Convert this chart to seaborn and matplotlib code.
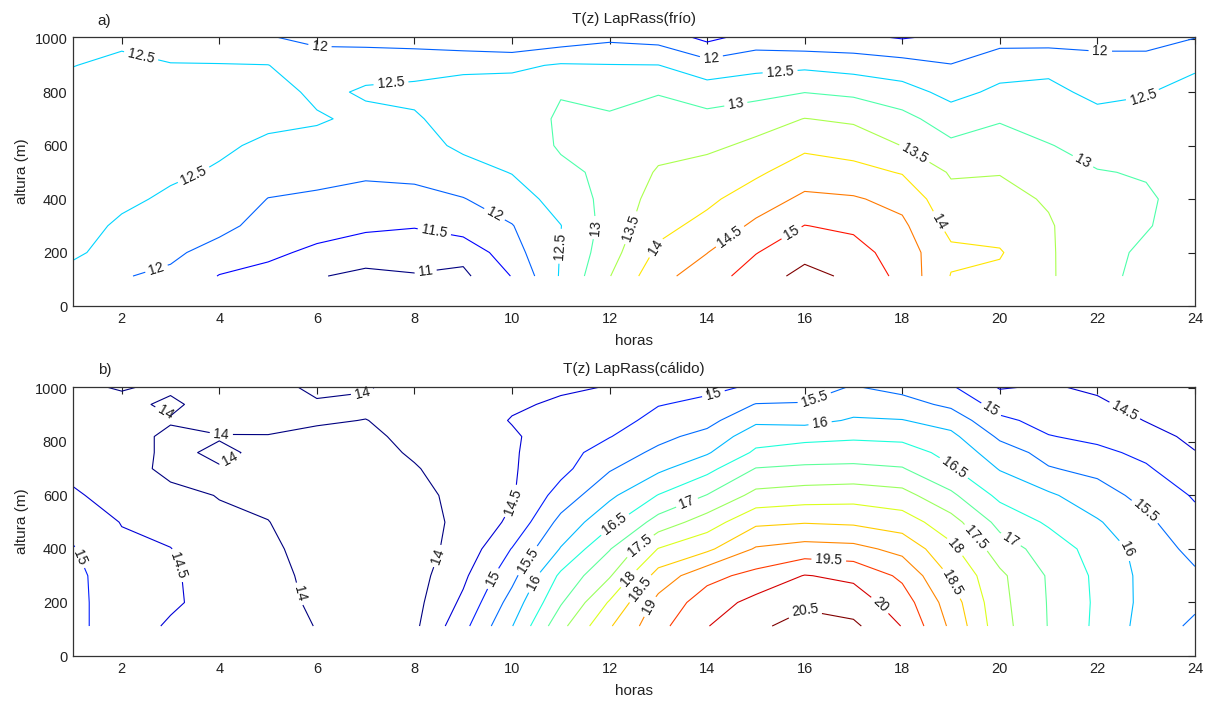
import numpy as np
import matplotlib
matplotlib.use("Agg")
import matplotlib.pyplot as plt
import seaborn as sns

# ---------------- data ----------------
HOURS = list(range(1, 25))

# panel a) frío : heights (m) and temperature rows (one row per height, 24 hours)
HEIGHTS_A = [112, 200, 300, 400, 500, 600, 700, 800, 900, 1006]
FRIO_112 = [12.3, 12.03, 11.9, 11.48, 11.35, 11.03, 10.9, 10.97, 10.9, 11.52, 12.55, 13.48, 14.35, 14.75, 15.25, 15.65, 15.4, 14.85, 13.98, 13.9, 13.56, 13.16, 12.85, 12.7]
FRIO_200 = [12.6, 12.25, 12.1, 11.8, 11.6, 11.4, 11.2, 11.2, 11.15, 11.8, 12.52, 13.3, 14.1, 14.49, 14.98, 15.35, 15.2, 14.75, 14.1, 14.04, 13.56, 13.15, 12.92, 12.75]
FRIO_300 = [12.7, 12.42, 12.25, 12.15, 11.8, 11.7, 11.6, 11.53, 11.75, 11.98, 12.49, 13.2, 13.85, 14.15, 14.6, 15.01, 14.9, 14.6, 13.85, 13.8, 13.55, 13.15, 13.03, 12.8]
FRIO_400 = [12.75, 12.6, 12.42, 12.3, 11.99, 11.95, 11.85, 11.85, 11.98, 12.25, 12.7, 13.15, 13.7, 13.9, 14.25, 14.6, 14.55, 14.35, 13.65, 13.65, 13.45, 13.1, 13.05, 12.85]
FRIO_500 = [12.75, 12.7, 12.58, 12.45, 12.2, 12.1, 12.07, 12.12, 12.3, 12.52, 12.9, 13.1, 13.55, 13.7, 13.92, 14.25, 14.15, 13.97, 13.45, 13.48, 13.25, 13.02, 12.97, 12.8]
FRIO_600 = [12.7, 12.75, 12.68, 12.57, 12.42, 12.35, 12.25, 12.3, 12.6, 12.7, 13.05, 13.08, 13.35, 13.4, 13.6, 13.9, 13.8, 13.49, 13.1, 13.25, 13.02, 12.85, 12.75, 12.75]
FRIO_700 = [12.7, 12.75, 12.7, 12.65, 12.6, 12.55, 12.4, 12.45, 12.7, 12.8, 13.05, 13.04, 13.15, 13.15, 13.3, 13.51, 13.42, 13.15, 12.75, 12.95, 12.8, 12.62, 12.6, 12.7]
FRIO_800 = [12.65, 12.7, 12.65, 12.62, 12.7, 12.4, 12.55, 12.6, 12.65, 12.75, 12.98, 12.9, 12.98, 12.75, 12.85, 12.99, 12.9, 12.7, 12.35, 12.6, 12.6, 12.4, 12.48, 12.62]
FRIO_900 = [12.49, 12.6, 12.55, 12.52, 12.51, 12.2, 12.35, 12.35, 12.42, 12.4, 12.55, 12.52, 12.51, 12.2, 12.35, 12.4, 12.3, 12.2, 12.02, 12.3, 12.4, 12.15, 12.2, 12.45]
FRIO_1006 = [12.3, 12.4, 11.99, 12.2, 12.02, 11.9, 11.8, 11.75, 11.6, 11.52, 11.7, 11.88, 11.8, 11.35, 11.7, 11.6, 11.6, 11.45, 11.6, 11.8, 11.75, 11.85, 11.8, 11.98]
LEVELS_A = [11, 11.5, 12, 12.5, 13, 13.5, 14, 14.5, 15, 15.5]

# panel b) cálido
HEIGHTS_B = [112, 200, 300, 400, 500, 600, 700, 760, 820, 880, 940, 1006]
CALIDO_112 = [15.15, 14.7, 14.45, 14.3, 14.25, 13.98, 13.7, 13.9, 14.85, 15.98, 17.35, 18.45, 19.35, 19.98, 20.4, 20.7, 20.6, 19.98, 18.9, 17.7, 16.98, 16.4, 15.8, 15.4]
CALIDO_200 = [15.15, 14.7, 14.56, 14.35, 14.22, 13.9, 13.7, 13.85, 14.6, 15.7, 16.95, 18.05, 19.15, 19.75, 20.15, 20.4, 20.25, 19.75, 18.75, 17.65, 16.97, 16.42, 15.85, 15.6]
CALIDO_300 = [15.14, 14.68, 14.56, 14.3, 14.18, 13.85, 13.7, 13.8, 14.4, 15.35, 16.6, 17.45, 18.7, 19.35, 19.65, 20.02, 19.9, 19.4, 18.45, 17.6, 16.95, 16.4, 15.85, 15.58]
CALIDO_400 = [15.03, 14.6, 14.51, 14.22, 14.1, 13.8, 13.72, 13.8, 14.18, 15.02, 16.03, 16.97, 18.02, 18.4, 19.05, 19.2, 19.15, 18.85, 18.12, 17.25, 16.78, 16.3, 15.8, 15.35]
CALIDO_500 = [14.85, 14.48, 14.35, 14.1, 14.01, 13.78, 13.72, 13.8, 14.12, 14.6, 15.65, 16.37, 17.2, 17.75, 18.4, 18.47, 18.42, 18.25, 17.7, 16.85, 16.43, 16.05, 15.6, 15.15]
CALIDO_600 = [14.55, 14.35, 14.15, 13.98, 13.9, 13.75, 13.75, 13.82, 14.18, 14.45, 15.2, 15.9, 16.52, 17.02, 17.65, 17.75, 17.8, 17.68, 17.1, 16.38, 16.08, 15.7, 15.35, 14.95]
CALIDO_700 = [14.4, 14.25, 13.85, 13.97, 13.88, 13.75, 13.8, 13.97, 14.2, 14.45, 14.85, 15.45, 15.9, 16.35, 17.02, 17.08, 17.1, 17.03, 16.55, 15.97, 15.53, 15.38, 15.05, 14.7]
CALIDO_760 = [14.35, 14.2, 13.9, 14.08, 13.9, 13.8, 13.85, 14.05, 14.22, 14.45, 14.78, 15.25, 15.6, 15.95, 16.58, 16.75, 16.78, 16.72, 16.35, 15.72, 15.35, 15.1, 14.9, 14.52]
CALIDO_820 = [14.3, 14.2, 13.9, 13.97, 13.98, 13.9, 13.92, 14.1, 14.25, 14.45, 14.7, 14.98, 15.38, 15.65, 16.3, 16.35, 16.42, 16.38, 16.12, 15.42, 15.02, 14.9, 14.7, 14.38]
CALIDO_880 = [14.25, 14.2, 14.04, 14.2, 14.15, 14.05, 13.99, 14.15, 14.3, 14.52, 14.62, 14.8, 15.15, 15.35, 15.9, 15.85, 16.05, 16.02, 15.8, 15.1, 14.85, 14.8, 14.48, 14.25]
CALIDO_940 = [14.2, 14.15, 13.9, 14.25, 14.2, 14.05, 14.1, 14.2, 14.32, 14.45, 14.55, 14.65, 14.98, 15.1, 15.52, 15.52, 15.8, 15.68, 15.4, 14.8, 14.7, 14.6, 14.3, 14.15]
CALIDO_1006 = [14.1, 13.95, 14.1, 14.2, 14.15, 13.9, 13.95, 14.2, 14.35, 14.42, 14.45, 14.51, 14.8, 14.9, 15.05, 15.35, 15.52, 15.35, 15.05, 14.45, 14.55, 14.4, 14.15, 14.1]
LEVELS_B = [14, 14.5, 15, 15.5, 16, 16.5, 17, 17.5, 18, 18.5, 19, 19.5, 20, 20.5]

X_TICKS = [2, 4, 6, 8, 10, 12, 14, 16, 18, 20, 22, 24]
Y_TICKS = [0, 200, 400, 600, 800, 1000]

# ---------------- label placement (layout only) ----------------
LABEL_SPOTS_A = [(2.4, 938), (6.06, 956), (3.46, 496), (2.71, 141), (7.53, 809),
                 (8.39, 259), (8.24, 115), (9.62, 336), (11.09, 222), (11.8, 290),
                 (12.56, 284), (12.91, 222), (14.47, 259), (15.74, 271), (14.1, 913),
                 (15.5, 867), (14.6, 742), (18.23, 564), (18.74, 315), (21.68, 533),
                 (22.06, 959), (22.95, 770)]
LABEL_SPOTS_B = [(2.91, 913), (4.04, 835), (4.28, 714), (6.94, 976), (5.43, 222),
                 (8.51, 371), (3.08, 334), (1.17, 371), (10.01, 577), (9.67, 284),
                 (10.46, 340), (10.49, 272), (12.17, 477), (13.62, 558), (12.66, 402),
                 (12.35, 296), (12.66, 247), (12.83, 184), (14.15, 966), (16.22, 951),
                 (16.32, 864), (16.49, 346), (16.0, 172), (17.55, 191), (19.05, 702),
                 (19.77, 907), (19.09, 409), (19.46, 434), (19.02, 272), (20.18, 422),
                 (22.57, 920), (22.95, 533), (22.57, 396)]

# ---------------- style ----------------
sns.set_theme(style="white")
plt.rcParams["font.family"] = ["Liberation Sans", "DejaVu Sans"]

fig = plt.figure(figsize=(12.12, 7.02), dpi=100)
ax_a = fig.add_axes([0.0602, 0.5641, 0.9257, 0.3832])
ax_b = fig.add_axes([0.0602, 0.0655, 0.9257, 0.3836])


def draw(ax, heights, rows, levels, spots, title, tag):
    Z = np.array(rows)
    X, Y = np.meshgrid(HOURS, heights)
    cs = ax.contour(X, Y, Z, levels=levels, cmap="jet", linewidths=0.8)
    ax.set_xlim(1, 24)
    ax.set_ylim(0, 1006)
    texts = ax.clabel(cs, inline=True, fmt="%g", fontsize=10, colors="k",
                      inline_spacing=4, manual=spots)
    for t in texts:
        t.set_clip_on(False)
    ax.set_xticks(X_TICKS)
    ax.set_yticks(Y_TICKS)
    ax.tick_params(direction="in", length=5, width=0.8, top=True, right=True,
                   labelsize=10.5, colors="#222222", pad=4)
    for sp in ax.spines.values():
        sp.set_color("#333333")
        sp.set_linewidth(0.9)
    ax.set_xlabel("horas", fontsize=11, labelpad=6, color="#222222")
    ax.set_ylabel("altura (m)", fontsize=11, labelpad=4, color="#222222")
    ax.set_title(title, fontsize=11, pad=10, color="#222222")
    ax.text(0.022, 1.035, tag, transform=ax.transAxes, fontsize=11,
            ha="left", va="bottom", color="#222222")


draw(ax_a, HEIGHTS_A,
     [FRIO_112, FRIO_200, FRIO_300, FRIO_400, FRIO_500, FRIO_600, FRIO_700,
      FRIO_800, FRIO_900, FRIO_1006],
     LEVELS_A, LABEL_SPOTS_A, "T(z) LapRass(frío)", "a)")
draw(ax_b, HEIGHTS_B,
     [CALIDO_112, CALIDO_200, CALIDO_300, CALIDO_400, CALIDO_500, CALIDO_600,
      CALIDO_700, CALIDO_760, CALIDO_820, CALIDO_880, CALIDO_940, CALIDO_1006],
     LEVELS_B, LABEL_SPOTS_B, "T(z) LapRass(cálido)", "b)")

fig.savefig("out.png", dpi=100)
